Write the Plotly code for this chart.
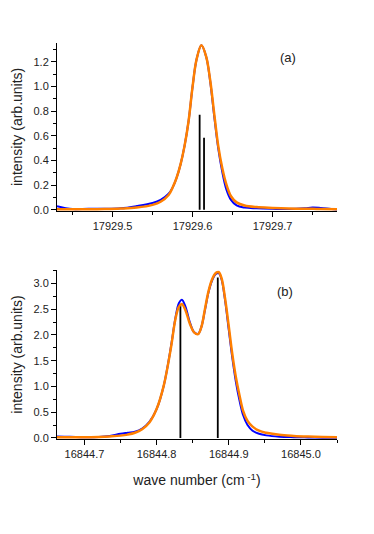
import plotly.graph_objects as go

# ---------- panel (a) ----------
xa = [17929.4305, 17929.44, 17929.45, 17929.47, 17929.49, 17929.51, 17929.53, 17929.55,
      17929.56, 17929.57, 17929.575, 17929.58, 17929.585, 17929.59, 17929.595, 17929.60,
      17929.605, 17929.611, 17929.617, 17929.622, 17929.627, 17929.632, 17929.637,
      17929.642, 17929.648, 17929.655, 17929.665, 17929.68, 17929.70, 17929.72,
      17929.74, 17929.75, 17929.76, 17929.7805]
blue_a = [0.028, 0.015, 0.006, 0.008, 0.008, 0.012, 0.030, 0.055,
          0.080, 0.13, 0.18, 0.26, 0.37, 0.52, 0.72, 1.00,
          1.22, 1.333, 1.24, 1.04, 0.76, 0.50, 0.31,
          0.17, 0.08, 0.035, 0.018, 0.012, 0.008, 0.006,
          0.012, 0.018, 0.015, 0.003]
orange_a = [0.005, 0.004, 0.004, 0.004, 0.006, 0.010, 0.018, 0.040,
            0.065, 0.12, 0.18, 0.26, 0.37, 0.52, 0.72, 1.00,
            1.22, 1.333, 1.24, 1.05, 0.78, 0.52, 0.34,
            0.21, 0.11, 0.06, 0.035, 0.022, 0.015, 0.010,
            0.008, 0.008, 0.006, 0.004]
stick_x_a = [17929.6088, 17929.6143]
stick_h_a = [0.77, 0.583]

# ---------- panel (b) ----------
xb = [16844.662, 16844.68, 16844.70, 16844.72, 16844.735, 16844.75, 16844.76, 16844.77,
      16844.78, 16844.79, 16844.80, 16844.81, 16844.82, 16844.826, 16844.831, 16844.835,
      16844.840, 16844.846, 16844.852, 16844.8575, 16844.862, 16844.867, 16844.872,
      16844.877, 16844.882, 16844.886, 16844.890, 16844.895, 16844.900, 16844.905,
      16844.910, 16844.915, 16844.920, 16844.926, 16844.933, 16844.942, 16844.952,
      16844.97, 16844.99, 16845.01, 16845.03, 16845.05]
blue_b = [0.03, 0.025, 0.015, 0.02, 0.04, 0.08, 0.10, 0.12,
          0.18, 0.31, 0.56, 1.02, 1.78, 2.32, 2.62, 2.68,
          2.55, 2.25, 2.05, 2.02, 2.15, 2.48, 2.83,
          3.06, 3.18, 3.20, 3.08, 2.66, 2.10, 1.55,
          1.08, 0.72, 0.44, 0.25, 0.14, 0.08, 0.05,
          0.025, 0.015, 0.01, 0.006, 0.005]
orange_b = [0.015, 0.012, 0.012, 0.02, 0.03, 0.045, 0.065, 0.10,
            0.17, 0.30, 0.56, 1.02, 1.76, 2.30, 2.55, 2.60,
            2.48, 2.22, 2.05, 2.015, 2.15, 2.50, 2.85,
            3.08, 3.20, 3.22, 3.10, 2.70, 2.17, 1.62,
            1.17, 0.82, 0.52, 0.33, 0.22, 0.14, 0.10,
            0.06, 0.04, 0.028, 0.02, 0.015]
stick_x_b = [16844.833, 16844.8848]
stick_h_b = [2.59, 3.116]

BLUE = "#0000FF"
ORANGE = "#FF7F00"
FONT = "Liberation Sans, Arial, sans-serif"
OFF = 8  # page body margin in the browser


def sticks(xs, hs):
    X, Y = [], []
    for x, h in zip(xs, hs):
        X += [x, x, None]
        Y += [0, h, None]
    return X, Y


fig = go.Figure()
for (xs, hs, xax, yax) in [(stick_x_a, stick_h_a, "x", "y"), (stick_x_b, stick_h_b, "x2", "y2")]:
    X, Y = sticks(xs, hs)
    fig.add_trace(go.Scatter(x=X, y=Y, mode="lines", line=dict(color="black", width=1.8),
                             xaxis=xax, yaxis=yax, showlegend=False, hoverinfo="skip"))

fig.add_trace(go.Scatter(x=xa, y=blue_a, mode="lines", line=dict(color=BLUE, width=2, shape="spline"),
                         xaxis="x", yaxis="y", showlegend=False))
fig.add_trace(go.Scatter(x=xa, y=orange_a, mode="lines", line=dict(color=ORANGE, width=2.5, shape="spline"),
                         xaxis="x", yaxis="y", showlegend=False))
fig.add_trace(go.Scatter(x=xb, y=blue_b, mode="lines", line=dict(color=BLUE, width=2, shape="spline"),
                         xaxis="x2", yaxis="y2", showlegend=False))
fig.add_trace(go.Scatter(x=xb, y=orange_b, mode="lines", line=dict(color=ORANGE, width=2.5, shape="spline"),
                         xaxis="x2", yaxis="y2", showlegend=False))

W, H = 374, 534


def px(x):
    return (x - OFF) / W


def py(y):
    return 1 - (y - OFF) / H


xdom = [px(57), px(337)]

axis_common = dict(showline=True, linecolor="black", linewidth=1, ticks="outside", ticklen=5,
                   tickcolor="black", tickwidth=1, showgrid=False, zeroline=False,
                   tickfont=dict(family=FONT, size=11, color="#222"))

fig.update_layout(
    width=W, height=H,
    margin=dict(l=0, r=0, t=0, b=0),
    paper_bgcolor="white", plot_bgcolor="white",
    font=dict(family=FONT, color="#222"),
    xaxis=dict(domain=xdom, anchor="y", range=[17929.4305, 17929.7805], dtick=0.1,
               tick0=17929.5, tickformat=".1f",
               minor=dict(ticks="outside", ticklen=3, dtick=0.05, tick0=17929.45, tickcolor="black"),
               **axis_common),
    yaxis=dict(domain=[py(213), py(43)], anchor="x", range=[-0.0104, 1.3547], dtick=0.2,
               tickformat=".1f",
               minor=dict(ticks="outside", ticklen=3, dtick=0.1, tickcolor="black"),
               title=dict(text="intensity (arb.units)", font=dict(family=FONT, size=14, color="#222"),
                          standoff=7),
               **axis_common),
    xaxis2=dict(domain=xdom, anchor="y2", range=[16844.662, 16845.05], dtick=0.1,
                tick0=16844.7, tickformat=".1f",
                minor=dict(ticks="outside", ticklen=3, dtick=0.05, tick0=16844.65, tickcolor="black"),
                title=dict(text="wave number (cm<sup> -1</sup>)", font=dict(family=FONT, size=14, color="#222"),
                           standoff=16),
                **axis_common),
    yaxis2=dict(domain=[py(443), py(272.7)], anchor="x2", range=[-0.019, 3.255], dtick=0.5,
                tickformat=".1f",
                minor=dict(ticks="outside", ticklen=3, dtick=0.25, tickcolor="black"),
                title=dict(text="intensity (arb.units)", font=dict(family=FONT, size=14, color="#222"),
                           standoff=7),
                **axis_common),
    annotations=[
        dict(text="(a)", x=px(288), y=py(58), xref="paper", yref="paper", showarrow=False,
             xanchor="center", yanchor="middle", font=dict(family=FONT, size=13, color="#222")),
        dict(text="(b)", x=px(285), y=py(294), xref="paper", yref="paper", showarrow=False,
             xanchor="center", yanchor="middle", font=dict(family=FONT, size=13, color="#222")),
    ],
)

fig.write_html("out.html")
